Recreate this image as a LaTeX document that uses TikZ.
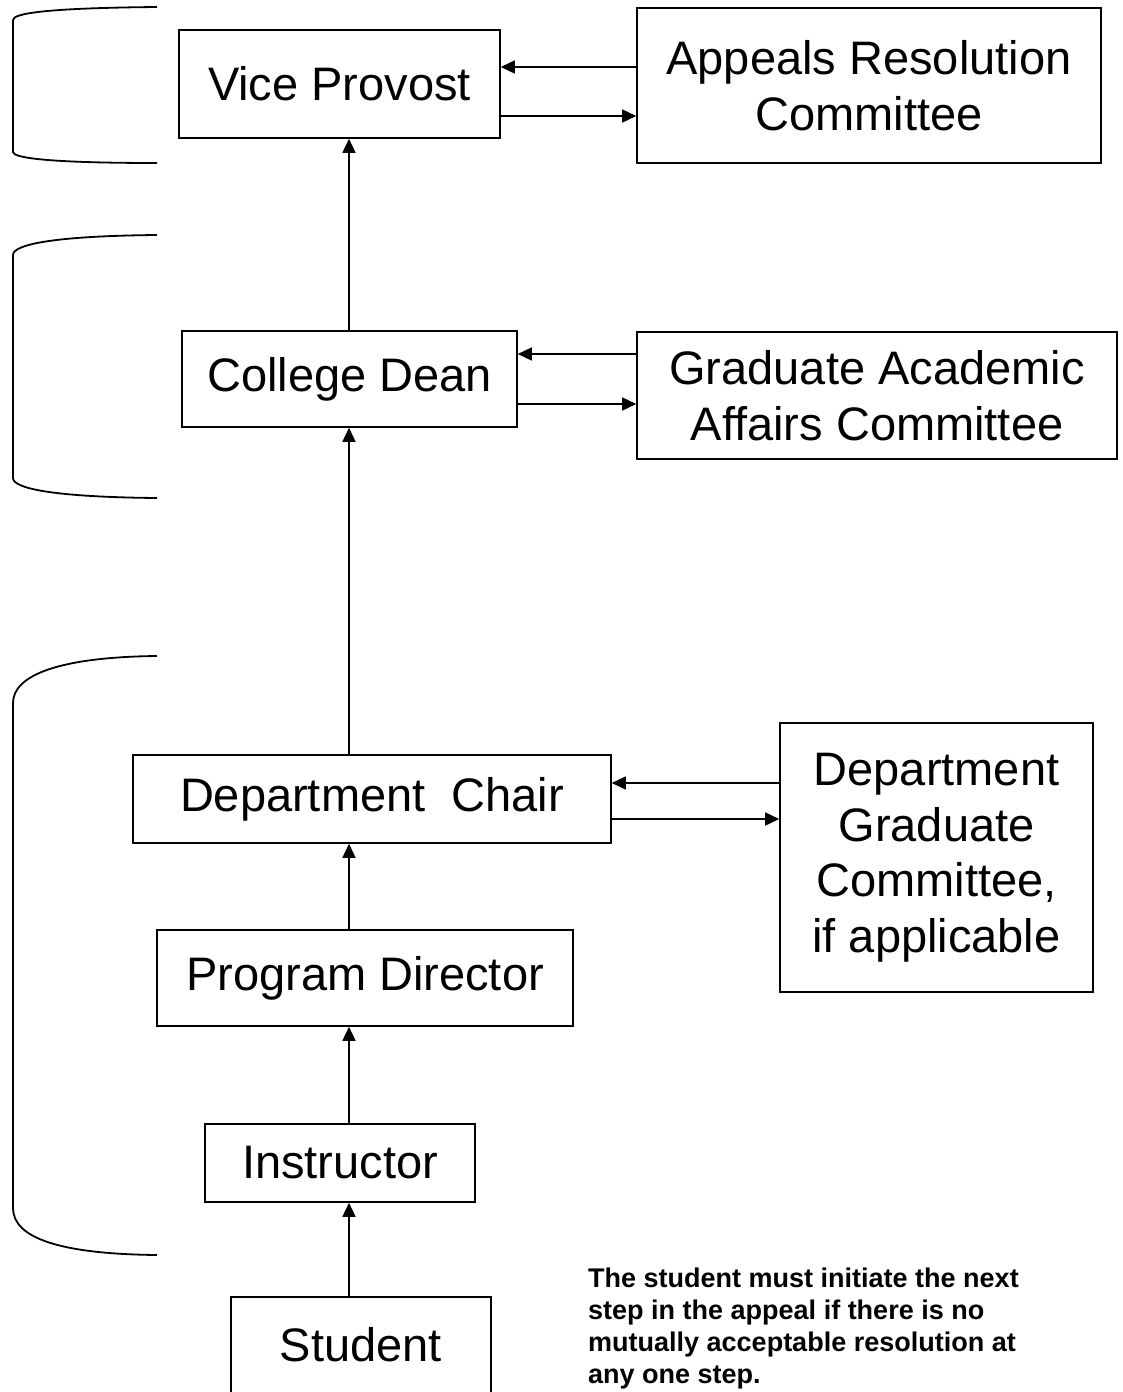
\documentclass[tikz,border=0pt]{standalone}
\usepackage{fontspec}
\setmainfont{Liberation Sans}
\usetikzlibrary{arrows.meta}
\begin{document}
\begin{tikzpicture}[x=1pt,y=-1pt,
  stepbox/.style={draw,line width=1.6pt,inner sep=0pt,align=center,
    font=\fontsize{47}{55.5}\selectfont},
  arr/.style={line width=1.6pt,-{Triangle[length=14pt,width=13pt]}},
  brk/.style={line width=1.8pt}]
\useasboundingbox (0,0) rectangle (1123,1392);

% boxes
\node[stepbox,minimum width=321pt,minimum height=108pt] (vp) at (339.5,84) {Vice Provost};
\node[stepbox,minimum width=464pt,minimum height=155pt] (arc) at (869,85.5) {Appeals Resolution\\Committee};
\node[stepbox,minimum width=335pt,minimum height=96pt] (cd) at (349.5,379) {College Dean};
\node[stepbox,minimum width=480pt,minimum height=127pt] (gaac) at (877,395.5) {Graduate Academic\\Affairs Committee};
\node[stepbox,minimum width=478pt,minimum height=88pt] (dc) at (372,799) {Department\ \ Chair};
\node[stepbox,minimum width=313pt,minimum height=269pt] (dgc) at (936.5,857.5) {Department\\Graduate\\Committee,\\if applicable};
\node[stepbox,minimum width=416pt,minimum height=96pt] (pd) at (365,978) {Program Director};
\node[stepbox,minimum width=270pt,minimum height=78pt] (ins) at (340,1163) {Instructor};
\node[stepbox,draw=none,minimum width=258pt,minimum height=94pt] (stu) at (361,1345) {Student};
\draw[line width=1.6pt] (stu.south west) -- (stu.north west) -- (stu.north east) -- (stu.south east);

% note
\node[anchor=north west,inner sep=0pt,align=left,
  font=\fontsize{27}{32}\selectfont\bfseries] (note) at (588,1268)
  {The student must initiate the next\\step in the appeal if there is no\\mutually acceptable resolution at\\any one step.};

% vertical chain
\coordinate (col) at (349,0);
\draw[arr] (stu.north -| col) -- (ins.south -| col);
\draw[arr] (ins.north -| col) -- (pd.south -| col);
\draw[arr] (pd.north -| col) -- (dc.south -| col);
\draw[arr] (dc.north -| col) -- (cd.south -| col);
\draw[arr] (cd.north -| col) -- (vp.south -| col);

% side arrows
\draw[arr] ([yshift=18.5pt]arc.west) -- ([yshift=18.5pt]arc.west -| vp.east);
\draw[arr] ([yshift=-30.5pt]arc.west -| vp.east) -- ([yshift=-30.5pt]arc.west);
\draw[arr] ([yshift=41.5pt]gaac.west) -- ([yshift=41.5pt]gaac.west -| cd.east);
\draw[arr] ([yshift=-8.5pt]gaac.west -| cd.east) -- ([yshift=-8.5pt]gaac.west);
\draw[arr] ([yshift=74.5pt]dgc.west) -- ([yshift=74.5pt]dgc.west -| dc.east);
\draw[arr] ([yshift=38.5pt]dgc.west -| dc.east) -- ([yshift=38.5pt]dgc.west);

% brackets
\draw[brk] (157,7) .. controls (50,8) and (13,13) .. (13,20) -- (13,152)
  .. controls (13,158) and (50,163) .. (157,163);
\draw[brk] (157,235) .. controls (50,236) and (13,245) .. (13,255) -- (13,478)
  .. controls (13,488) and (50,497) .. (157,498);
\draw[brk] (157,656) .. controls (60,657) and (13,675) .. (13,703) -- (13,1208)
  .. controls (13,1238) and (60,1254) .. (157,1255);
\end{tikzpicture}
\end{document}
